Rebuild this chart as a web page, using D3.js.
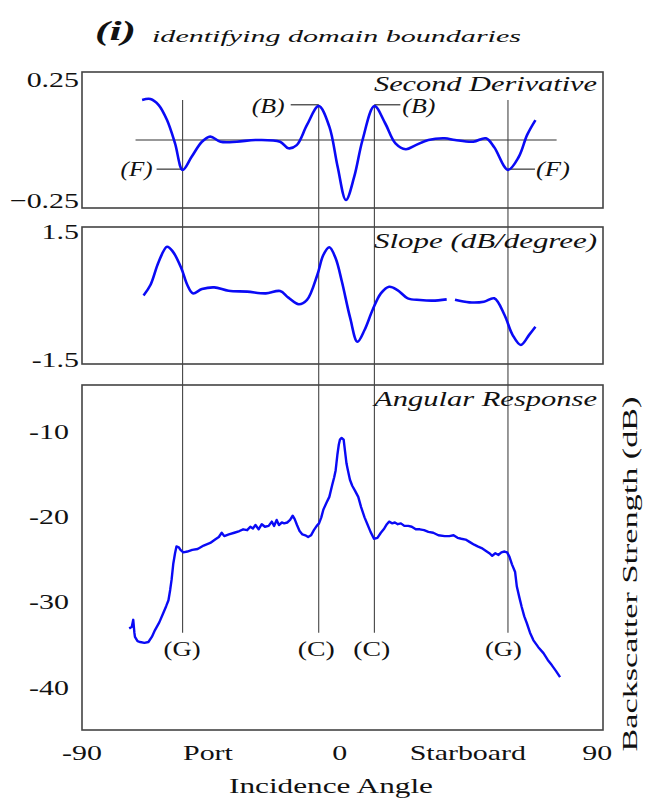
<!DOCTYPE html>
<html><head><meta charset="utf-8">
<script src="https://cdn.jsdelivr.net/npm/d3@7"></script>
<style>html,body{margin:0;padding:0;background:#fff;} svg{display:block;}</style>
</head><body>
<svg id="chart" width="648" height="801"></svg>
<script>
// ---------- data (incidence angle in degrees) ----------
const secondDerivative = [
  [-69.0,0.165],[-66.1,0.169],[-63.2,0.144],[-60.3,0.082],[-57.5,-0.014],[-54.86,-0.123],
  [-51.7,-0.069],[-48.1,-0.007],[-45.2,0.014],[-41.6,-0.007],[-35.9,-0.007],[-29.4,0],
  [-20.8,-0.007],[-17.9,-0.034],[-15.0,-0.021],[-11.4,0.062],[-7.31,0.14],[-3.6,0.055],
  [-0.7,-0.11],[2.2,-0.247],[5.1,-0.151],[8.0,0],[12.14,0.14],[15.9,0.069],[19.5,-0.014],
  [23.1,-0.038],[26.6,-0.021],[31.0,0],[36.7,0.007],[40.3,0],[46.7,-0.007],[51.1,0.007],
  [54.0,-0.03],[58.8,-0.123],[62.6,-0.069],[65.5,0.021],[68.4,0.082]
];
const slope = [
  [-68.5,0],[-66.1,0.245],[-63.2,0.79],[-60.3,1.14],[-58.2,1.02],[-55.3,0.635],[-53.2,0.245],
  [-51.3,0.05],[-48.1,0.15],[-43.8,0.19],[-38.8,0.11],[-32.3,0.09],[-25.8,0.05],[-20.8,0.105],
  [-17.9,-0.05],[-14.3,-0.205],[-11.4,-0.105],[-7.8,0.48],[-5.7,0.946],[-3.6,1.126],[-1.4,0.87],
  [0.8,0.32],[3.7,-0.53],[6.2,-1.08],[8.7,-0.806],[11.5,-0.339],[14.4,0.05],[17.3,0.205],
  [20.2,0.128],[23.8,-0.066],[28.1,-0.105],[32.4,-0.12],[37.4,-0.09],[38.8,null],
  [40.3,-0.1],[45.3,-0.16],[50.4,-0.145],[54.0,-0.066],[57.6,-0.455],[60.4,-0.92],
  [63.3,-1.156],[66.2,-0.92],[68.4,-0.73]
];
const angularResponse = [
  [-73.5,-33.1],[-72.6,-32.9],[-72.1,-32.1],[-71.7,-33.6],[-71.5,-34.1],[-70.6,-34.6],[-69.7,-34.7],
  [-68.2,-34.8],[-66.8,-34.7],[-65.6,-34.1],[-64.5,-33.3],[-63.0,-32.4],[-61.6,-31.3],[-60.6,-30.5],
  [-59.8,-29.8],[-59.2,-28.6],[-58.7,-27.4],[-58.1,-25.5],[-57.5,-24.3],[-57.0,-23.5],[-56.2,-23.6],
  [-55.6,-23.9],[-54.6,-24.2],[-53.2,-24.1],[-51.5,-23.9],[-49.6,-23.8],[-47.5,-23.4],[-45.2,-23.1],
  [-43.5,-22.7],[-42.2,-22.4],[-41.2,-21.9],[-40.3,-22.3],[-38.7,-22.1],[-36.8,-21.9],[-35,-21.7],
  [-33.7,-21.5],[-32.3,-21.6],[-31.2,-21.2],[-30.3,-21.4],[-29.4,-21.0],[-28.3,-21.5],[-27.2,-20.9],
  [-26.1,-21.2],[-24.8,-21.1],[-23.7,-20.6],[-22.9,-21.1],[-22.0,-20.4],[-21.2,-21.0],[-20.2,-20.7],
  [-19.4,-20.8],[-18.3,-20.7],[-17.3,-20.4],[-16.4,-19.9],[-15.7,-20.3],[-14.9,-21.0],[-14.0,-21.7],
  [-13.0,-22.1],[-12.0,-22.2],[-11.0,-22.4],[-10.0,-22.2],[-9.0,-21.6],[-8.0,-21.1],[-7.2,-20.8],
  [-6.4,-20.1],[-5.7,-19.2],[-4.6,-18.4],[-3.6,-17.7],[-2.6,-16.3],[-1.9,-15.4],[-1.4,-14.6],
  [-0.8,-12.8],[-0.3,-11.6],[0.1,-11.0],[0.7,-10.8],[1.4,-11.0],[1.9,-12.4],[2.4,-13.8],[2.9,-14.6],
  [3.6,-15.7],[4.4,-16.4],[5.4,-17.0],[6.5,-17.7],[7.5,-18.9],[8.7,-20.1],[9.7,-20.9],[10.8,-21.8],
  [12.0,-22.6],[13.2,-22.5],[14.4,-21.9],[15.6,-21.4],[16.5,-20.9],[17.3,-20.6],[18.3,-20.8],
  [19.3,-20.7],[20.3,-20.9],[21.4,-20.8],[22.6,-21.1],[24.0,-21.1],[25.2,-21.2],[26.6,-21.5],
  [28.0,-21.5],[29.5,-21.6],[31.0,-21.8],[32.7,-21.9],[34.5,-22.2],[36.7,-22.3],[38.3,-22.3],
  [39.8,-22.2],[41.2,-22.5],[42.5,-22.6],[44.0,-22.7],[45.5,-23.0],[47.0,-23.3],[48.2,-23.5],
  [49.6,-23.7],[51.0,-24.0],[52.3,-24.3],[53.3,-24.6],[54.4,-24.3],[55.5,-24.5],[56.5,-24.2],
  [57.6,-24.1],[58.5,-24.2],[59.3,-24.7],[60.2,-25.6],[61.3,-26.5],[61.9,-28.2],[62.8,-29.5],
  [63.6,-30.6],[64.5,-31.7],[65.4,-32.5],[66.5,-33.6],[67.7,-34.5],[69.4,-35.3],[71.2,-36.0],
  [72.7,-36.8],[74.1,-37.4],[75.6,-38.1],[77.0,-38.8]
];
const zeroLineSpan = [-71.3, 75.8];
const gAngles = [-54.86, 58.8];
const cAngles = [-7.31, 12.14];
const bLevel = 0.145, fLevel = -0.12, gLineTop = 0.165, lineBottomDb = -33.6;
const derivTicks = [0.25, -0.25];
const slopeTicks = [1.5, -1.5];
const dbTicks = [-10, -20, -30, -40];
const xTickLabels = [["-90",-90],["Port",-46],["0",0],["Starboard",44.8],["90",90]];
const titleNum = "(i)";
const titleText = "identifying domain boundaries";
const panelTitles = ["Second Derivative", "Slope (dB/degree)", "Angular Response"];
const xAxisTitle = "Incidence Angle";
const yAxisTitle = "Backscatter Strength (dB)";

// ---------- layout ----------
const svg = d3.select("#chart");
const X0 = 82, X1 = 603;
const x = d3.scaleLinear().domain([-90, 92]).range([X0, X1]);
const y1 = d3.scaleLinear().domain([-0.28, 0.28]).range([208, 72]);
const y2 = d3.scaleLinear().domain([-1.6, 1.6]).range([364, 227]);
const y3 = d3.scaleLinear().domain([-45, -4.6]).range([730, 385]);
const serif = "'Liberation Serif','DejaVu Serif',serif";
const blue = "#0a0af5";
const SX = 1.36;

function txt(str, px, py, opts = {}) {
  const t = svg.append("text")
    .attr("transform", `translate(${px},${py}) scale(${opts.sx || SX},1)`)
    .attr("font-family", serif)
    .attr("font-size", opts.size || 22)
    .attr("font-style", opts.italic ? "italic" : "normal")
    .attr("font-weight", opts.bold ? "bold" : "normal")
    .attr("text-anchor", opts.anchor || "start")
    .attr("fill", "#111")
    .text(str);
  return t;
}
function txtLen(str, px, py, len, opts = {}) {
  return svg.append("text")
    .attr("x", px).attr("y", py)
    .attr("font-family", serif)
    .attr("font-size", opts.size || 22)
    .attr("font-style", opts.italic ? "italic" : "normal")
    .attr("font-weight", opts.bold ? "bold" : "normal")
    .attr("textLength", len).attr("lengthAdjust", "spacingAndGlyphs")
    .attr("fill", "#111")
    .text(str);
}

// frames
[y1, y2, y3].forEach(ys => {
  const [b, t] = ys.range();
  svg.append("rect").attr("x", X0).attr("y", t).attr("width", X1 - X0).attr("height", b - t)
    .attr("fill", "none").attr("stroke", "#444").attr("stroke-width", 1.6);
});

// zero line in second derivative panel
svg.append("line").attr("x1", x(zeroLineSpan[0])).attr("x2", x(zeroLineSpan[1]))
  .attr("y1", y1(0)).attr("y2", y1(0)).attr("stroke", "#333").attr("stroke-width", 1.2);

// vertical boundary lines
gAngles.forEach(a => svg.append("line").attr("x1", x(a)).attr("x2", x(a))
  .attr("y1", y1(gLineTop)).attr("y2", y3(lineBottomDb)).attr("stroke", "#444").attr("stroke-width", 1.1));
cAngles.forEach(a => svg.append("line").attr("x1", x(a)).attr("x2", x(a))
  .attr("y1", y1(bLevel)).attr("y2", y3(lineBottomDb)).attr("stroke", "#444").attr("stroke-width", 1.1));

// annotation connectors + labels in top panel
function connector(xa, xb, yy) {
  svg.append("line").attr("x1", xa).attr("x2", xb).attr("y1", yy).attr("y2", yy)
    .attr("stroke", "#333").attr("stroke-width", 1.2);
}
// (B)
connector(x(cAngles[0]) - 28, x(cAngles[0]), y1(bLevel));
txtLen("(B)", x(cAngles[0]) - 67, y1(bLevel) + 8, 33, {italic: true, size: 20});
connector(x(cAngles[1]), x(cAngles[1]) + 26, y1(bLevel));
txtLen("(B)", x(cAngles[1]) + 28, y1(bLevel) + 8, 33, {italic: true, size: 20});
// (F)
connector(x(gAngles[0]) - 26, x(gAngles[0]), y1(fLevel));
txtLen("(F)", x(gAngles[0]) - 62, y1(fLevel) + 7, 32, {italic: true, size: 20});
connector(x(gAngles[1]), x(gAngles[1]) + 27, y1(fLevel));
txtLen("(F)", x(gAngles[1]) + 28, y1(fLevel) + 7, 34, {italic: true, size: 20});

// (G)/(C) labels at bottom of lines
gAngles.forEach((a, i) => txtLen("(G)", x(a) - 19 - (i ? 4 : 0), 656, 37, {size: 20}));
cAngles.forEach(a => txtLen("(C)", x(a) - 21, 656, 37, {size: 20}));

// curves
const lineSmooth = (ys) => d3.line().defined(d => d[1] !== null)
  .x(d => x(d[0])).y(d => ys(d[1])).curve(d3.curveCatmullRom.alpha(0.5));
svg.append("path").datum(secondDerivative).attr("d", lineSmooth(y1))
  .attr("fill", "none").attr("stroke", blue).attr("stroke-width", 2.6).attr("stroke-linejoin", "round");
svg.append("path").datum(slope).attr("d", lineSmooth(y2))
  .attr("fill", "none").attr("stroke", blue).attr("stroke-width", 2.6).attr("stroke-linejoin", "round");
svg.append("path").datum(angularResponse)
  .attr("d", d3.line().x(d => x(d[0])).y(d => y3(d[1])))
  .attr("fill", "none").attr("stroke", blue).attr("stroke-width", 2.4).attr("stroke-linejoin", "round");

// y tick labels
derivTicks.forEach(v => txt(d3.format("")(v).replace("0.", v < 0 ? "0." : "0."), 79, y1(v) + 7.5, {anchor: "end"}));
slopeTicks.forEach(v => txt(String(v), 79, y2(v) + 7.5, {anchor: "end"}));
dbTicks.forEach(v => txt(String(v), 69, y3(v) + 7.5, {anchor: "end"}));

// x tick labels
xTickLabels.forEach(([s, a]) => txt(s, x(a), 760, {anchor: "middle"}));

// axis titles
txtLen(xAxisTitle, 229, 793, 204, {size: 22});
svg.append("text")
  .attr("transform", "translate(637,574) rotate(-90)")
  .attr("font-family", serif).attr("font-size", 22).attr("text-anchor", "middle")
  .attr("textLength", 355).attr("lengthAdjust", "spacingAndGlyphs")
  .attr("fill", "#111").text(yAxisTitle);

// panel titles
const panelBaselines = [y1.range()[1] + 19, y2.range()[1] + 21, y3.range()[1] + 21];
panelTitles.forEach((s, i) => txtLen(s, 374, panelBaselines[i], 223, {italic: true, size: 22}));

// chart title
txtLen(titleNum, 95, 40, 41, {italic: true, bold: true, size: 27});
txtLen(titleText, 152, 42, 369, {italic: true, size: 17});
</script>
</body></html>
